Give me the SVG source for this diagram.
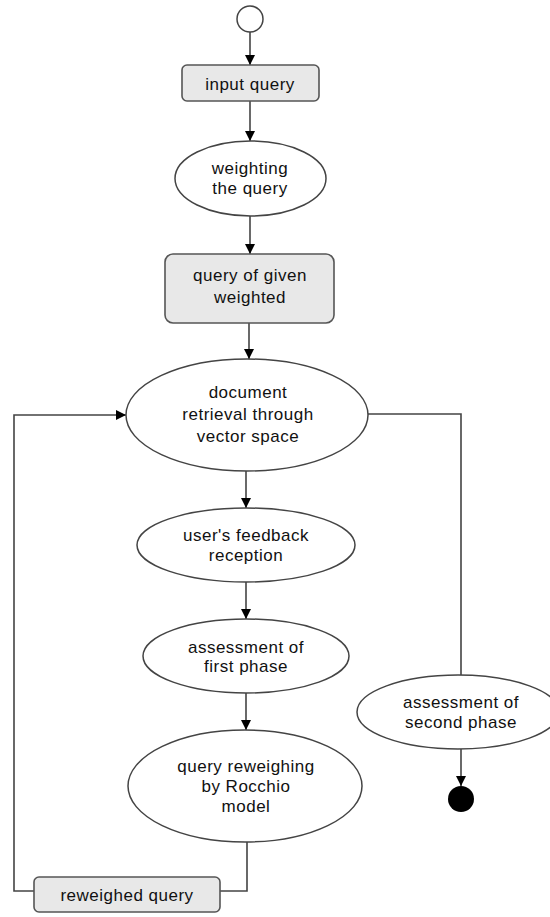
<svg xmlns="http://www.w3.org/2000/svg" width="550" height="917" viewBox="0 0 550 917">
<style>
.e{fill:#ffffff;stroke:#444;stroke-width:1.5}
.b{fill:#e8e8e8;stroke:#555;stroke-width:1.6}
.c{fill:none;stroke:#444;stroke-width:1.6}
text{font-family:"Liberation Sans",Arial,sans-serif;font-size:17px;letter-spacing:0.5px;fill:#111;text-anchor:middle;dominant-baseline:central}
</style>
<defs>
<marker id="a" viewBox="0 0 10 10" refX="10" refY="5" markerWidth="10" markerHeight="10" markerUnits="userSpaceOnUse" orient="auto">
<path d="M0,0 L10,5 L0,10 Z" fill="#000"/>
</marker>
</defs>
<g id="connectors">
<path class="c" d="M250,32 V65" marker-end="url(#a)"/>
<path class="c" d="M250,101 V141" marker-end="url(#a)"/>
<path class="c" d="M250,216 V254" marker-end="url(#a)"/>
<path class="c" d="M249,323 V359" marker-end="url(#a)"/>
<path class="c" d="M246,471 V508" marker-end="url(#a)"/>
<path class="c" d="M246,582 V619" marker-end="url(#a)"/>
<path class="c" d="M246,693 V730" marker-end="url(#a)"/>
<path class="c" d="M247,842 V891 H220"/>
<path class="c" d="M34,891 H14 V415 H126" marker-end="url(#a)"/>
<path class="c" d="M368,414 H461 V675"/>
<path class="c" d="M461,749 V786" marker-end="url(#a)"/>
</g>
<g id="start"><circle class="e" cx="250" cy="19" r="13"/></g>
<g id="input-query"><rect class="b" x="182" y="65" width="137" height="36" rx="5"/><text x="250" y="84">input query</text></g>
<g id="weighting"><ellipse class="e" cx="250.5" cy="178.5" rx="75.5" ry="37.5"/><text x="250" y="168">weighting</text><text x="250" y="188">the query</text></g>
<g id="given-weighted"><rect class="b" x="165" y="254" width="169" height="69" rx="8"/><text x="250" y="275">query of given</text><text x="250" y="297">weighted</text></g>
<g id="retrieval"><ellipse class="e" cx="247" cy="415" rx="121" ry="56"/><text x="248" y="392">document</text><text x="248" y="414">retrieval through</text><text x="248" y="436">vector space</text></g>
<g id="feedback"><ellipse class="e" cx="246" cy="545" rx="109" ry="37"/><text x="246" y="535">user's feedback</text><text x="246" y="555">reception</text></g>
<g id="first-phase"><ellipse class="e" cx="246" cy="656" rx="103" ry="37"/><text x="246" y="647">assessment of</text><text x="246" y="666">first phase</text></g>
<g id="rocchio"><ellipse class="e" cx="245" cy="786" rx="117" ry="56"/><text x="246" y="766">query reweighing</text><text x="246" y="786">by Rocchio</text><text x="246" y="806">model</text></g>
<g id="reweighed"><rect class="b" x="34" y="877" width="186" height="35" rx="5"/><text x="127" y="895">reweighed query</text></g>
<g id="second-phase"><ellipse class="e" cx="458" cy="712" rx="101" ry="37"/><text x="461" y="702">assessment of</text><text x="461" y="722">second phase</text></g>
<g id="end"><circle cx="461" cy="799" r="13" fill="#000"/></g>
</svg>
